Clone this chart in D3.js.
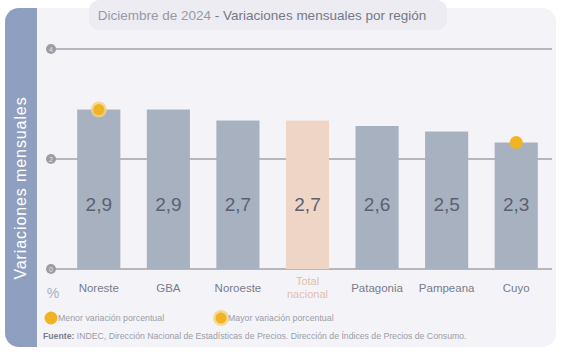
<!DOCTYPE html>
<html><head><meta charset="utf-8">
<script src="https://cdn.jsdelivr.net/npm/d3@7"></script>
<style>html,body{margin:0;padding:0;background:#fff;}svg{display:block;font-family:"Liberation Sans",Arial,sans-serif;}</style>
</head><body>
<svg id="c" width="576" height="362"></svg>
<script>
const categories = ["Noreste","GBA","Noroeste","Total nacional","Patagonia","Pampeana","Cuyo"];
const values = [2.9, 2.9, 2.7, 2.7, 2.6, 2.5, 2.3];
const yTicks = [0, 2, 4];
const maxRegion = "Noreste";
const minRegion = "Cuyo";
const totalCategory = "Total nacional";
const titleA = "Diciembre de 2024";
const titleB = " - Variaciones mensuales por región";
const yAxisTitle = "Variaciones  mensuales";
const legendLabels = ["Menor variación porcentual","Mayor variación porcentual"];
const sourceBold = "Fuente:";
const sourceText = " INDEC, Dirección Nacional de Estadísticas de Precios. Dirección de Índices de Precios de Consumo.";

const data = categories.map((c,i)=>({cat:c, val:values[i]}));
const svg = d3.select("#c");

// panel
svg.append("rect").attr("x",5).attr("y",8).attr("width",551).attr("height",339).attr("rx",14).attr("fill","#f4f4f8");
const clip = svg.append("clipPath").attr("id","pc");
clip.append("rect").attr("x",5).attr("y",8).attr("width",551).attr("height",339).attr("rx",14);
svg.append("rect").attr("x",5).attr("y",8).attr("width",32).attr("height",339).attr("fill","#8f9fbf").attr("clip-path","url(#pc)");
svg.append("text").attr("transform","translate(26,188) rotate(-90)").attr("text-anchor","middle")
  .attr("fill","#fff").attr("font-size",16).attr("letter-spacing",0.9).text(yAxisTitle);

// title pill
svg.append("rect").attr("x",89).attr("y",0).attr("width",358).attr("height",30).attr("rx",10).attr("fill","#ececf2");
const tt = svg.append("text").attr("x",262).attr("y",20).attr("text-anchor","middle").attr("font-size",13.5);
tt.append("tspan").attr("fill","#979aa6").text(titleA);
tt.append("tspan").attr("fill","#767888").text(titleB);

const x = d3.scaleBand().domain(categories).range([64,551]).paddingInner(0.38).paddingOuter(0.19);
const y = d3.scaleLinear().domain([0,4]).range([269,49]);

// gridlines
const grid = svg.append("g");
grid.selectAll("line").data(yTicks).join("line")
  .attr("x1",55).attr("x2",552).attr("y1",d=>y(d)).attr("y2",d=>y(d))
  .attr("stroke","#a2a2aa").attr("stroke-width",1.3);
grid.selectAll("circle").data(yTicks).join("circle")
  .attr("cx",51).attr("cy",d=>y(d)).attr("r",5).attr("fill","#9c9ca6");
grid.selectAll("text").data(yTicks).join("text")
  .attr("x",51).attr("y",d=>y(d)+2.5).attr("text-anchor","middle").attr("font-size",7).attr("fill","#e8e8ee").text(d=>d);

// bars
svg.append("g").selectAll("rect").data(data).join("rect")
  .attr("x",d=>x(d.cat)).attr("width",x.bandwidth())
  .attr("y",d=>y(d.val)).attr("height",d=>y(0)-y(d.val))
  .attr("fill",d=>d.cat===totalCategory?"#efd5c6":"#a8b1c0");

// value labels
svg.append("g").selectAll("text").data(data).join("text")
  .attr("x",d=>x(d.cat)+x.bandwidth()/2).attr("y",211).attr("text-anchor","middle")
  .attr("font-size",19).attr("fill","#5b6173").text(d=>d3.format(".1f")(d.val).replace(".",","));

// category labels
const cl = svg.append("g");
data.forEach(d=>{
  const cx = x(d.cat)+x.bandwidth()/2;
  if(d.cat===totalCategory){
    const t = cl.append("text").attr("x",cx).attr("text-anchor","middle").attr("font-size",11).attr("fill","#e2bea9");
    t.append("tspan").attr("x",cx).attr("y",285).text("Total");
    t.append("tspan").attr("x",cx).attr("y",298).text("nacional");
  } else {
    cl.append("text").attr("x",cx).attr("y",292).attr("text-anchor","middle").attr("font-size",11.5).attr("fill","#767c8b").text(d.cat);
  }
});
svg.append("text").attr("x",53).attr("y",298).attr("text-anchor","middle").attr("font-size",14).attr("fill","#a8b0c6").text("%");

// markers
function maxMarker(g,cx,cy){
  g.append("circle").attr("cx",cx).attr("cy",cy).attr("r",8).attr("fill","#f5d27a").attr("opacity",0.8);
  g.append("circle").attr("cx",cx).attr("cy",cy).attr("r",5.5).attr("fill","#f0b323");
}
function minMarker(g,cx,cy){
  g.append("circle").attr("cx",cx).attr("cy",cy).attr("r",6.5).attr("fill","#f0b323");
}
const mk = svg.append("g");
data.forEach(d=>{
  const cx = x(d.cat)+x.bandwidth()/2;
  if(d.cat===maxRegion) maxMarker(mk,cx,y(d.val));
  if(d.cat===minRegion) minMarker(mk,cx,y(d.val));
});

// legend
minMarker(svg,51,318);
svg.append("text").attr("x",58).attr("y",321).attr("font-size",8.8).attr("fill","#9a9ca6").text(legendLabels[0]);
maxMarker(svg,221,318);
svg.append("text").attr("x",228).attr("y",321).attr("font-size",8.8).attr("fill","#9a9ca6").text(legendLabels[1]);

// source
const src = svg.append("text").attr("x",43).attr("y",339).attr("font-size",8.7).attr("fill","#9a9ca6");
src.append("tspan").attr("font-weight","bold").attr("fill","#7a7e8c").text(sourceBold);
src.append("tspan").text(sourceText);
</script>
</body></html>
